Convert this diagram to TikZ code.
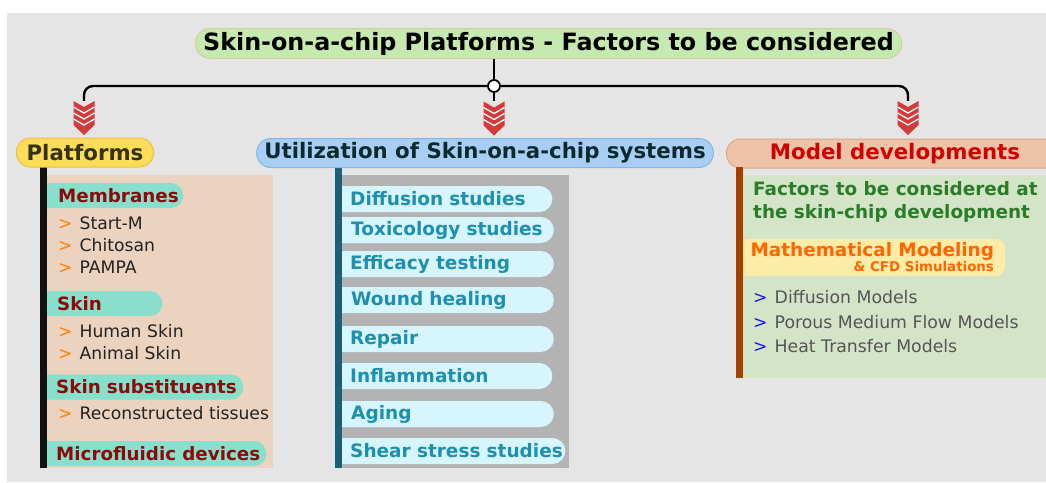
\documentclass[tikz,border=0pt]{standalone}
\usepackage{fontspec}
\setmainfont{DejaVu Sans}
\usetikzlibrary{shapes.misc, calc}

\definecolor{bggray}{HTML}{E5E5E5}
\definecolor{titlegreen}{HTML}{C6E9AF}
\definecolor{titleedge}{HTML}{D3CDA2}
\definecolor{platyellow}{HTML}{FDDC5A}
\definecolor{platedge}{HTML}{EBC23A}
\definecolor{platink}{HTML}{35330F}
\definecolor{useblue}{HTML}{A9CEF4}
\definecolor{useedge}{HTML}{7EB8EA}
\definecolor{useink}{HTML}{0B2A30}
\definecolor{modpeach}{HTML}{EEC4A8}
\definecolor{modedge}{HTML}{DDA585}
\definecolor{modred}{HTML}{D00000}
\definecolor{chevred}{HTML}{D43A3A}
\definecolor{beige}{HTML}{EBD3C0}
\definecolor{subteal}{HTML}{88DFCB}
\definecolor{subred}{HTML}{8B0A0A}
\definecolor{arrorange}{HTML}{FF7F00}
\definecolor{itemink}{HTML}{222222}
\definecolor{midgray}{HTML}{B3B3B3}
\definecolor{midbar}{HTML}{1B6078}
\definecolor{pillcyan}{HTML}{D6F5FC}
\definecolor{pillink}{HTML}{1E8FAE}
\definecolor{rightgreen}{HTML}{D4E4C6}
\definecolor{rightbar}{HTML}{A64000}
\definecolor{factgreen}{HTML}{2A7B2A}
\definecolor{mathyellow}{HTML}{FDECA8}
\definecolor{mathorange}{HTML}{FF6600}
\definecolor{arrblue}{HTML}{1A1AEE}
\definecolor{modink}{HTML}{555555}

\newcommand{\arrow}[1]{\textcolor{#1}{>}\hspace{7pt}}

\begin{document}
\begin{tikzpicture}[
    x=1pt, y=-1pt,
    head/.style={rounded rectangle, draw, line width=1pt, minimum height=29pt,
        font=\bfseries\fontsize{21.3}{20}\selectfont},
    link/.style={line width=2.4pt, black, rounded corners=9pt},
    hub/.style={circle, draw, fill=white, line width=1.8pt, minimum size=12pt, inner sep=0pt},
    chev/.style={minimum width=21pt, minimum height=34pt, inner sep=0pt, path picture={
        \begin{scope}[shift={(path picture bounding box.center)}]
        \fill[chevred] (-10.5,-17) -- (0,-11) -- (10.5,-17) -- (10.5,7) -- (0,17) -- (-10.5,7) -- cycle;
        \foreach \k in {1,2,3}
            \draw[white, line width=1.3pt] (-10.5,-17+6*\k) -- (0,-11+6*\k) -- (10.5,-17+6*\k);
        \end{scope}}},
    sub/.style={rounded rectangle, rounded rectangle west arc=none, fill=subteal,
        minimum height=25pt, inner xsep=0pt, align=left, anchor=west,
        font=\bfseries\fontsize{18.3}{17}\selectfont, text=subred},
    item/.style={anchor=west, inner sep=0pt, font=\fontsize{17.2}{16}\selectfont, text=itemink},
    use/.style={rounded rectangle, rounded rectangle west arc=none, fill=pillcyan,
        minimum height=26pt, inner xsep=0pt, align=left, anchor=west, text width=208pt,
        font=\bfseries\fontsize{18.5}{17}\selectfont, text=pillink},
    model/.style={anchor=west, inner sep=0pt, font=\fontsize{17.3}{16}\selectfont, text=modink}
]
\useasboundingbox (0,0) rectangle (1046,482);
\fill[bggray] (7,13) rectangle (1046,482);

% Titolo
\node[head, fill=titlegreen, draw=titleedge, minimum width=713pt,
    font=\bfseries\fontsize{23.8}{20}\selectfont] (title) at (548.5,43.5)
    {Skin-on-a-chip Platforms - Factors to be considered};

% Pannelli e barre
\fill[beige] (47,175) rectangle (273,468);
\fill[black!93] (40,167) rectangle (47,468);
\fill[midgray] (342,175) rectangle (569,468);
\fill[midbar] (335,168) rectangle (342,468);
\fill[rightgreen] (743,175) rectangle (1050,378);

% Intestazioni
\node[head, fill=platyellow, draw=platedge, text=platink, minimum width=144pt] (plat) at (85,152.5) {Platforms};
\node[head, fill=useblue, draw=useedge, text=useink, minimum width=450pt] (util) at (485,153) {Utilization of Skin-on-a-chip systems};
\node[head, fill=modpeach, draw=modedge, text=modred, minimum width=344pt] (model) at (895,153.5) {Model developments};

% Collegamenti
\node[hub] (hub) at (494,86) {};
\node[chev] (chevL) at (84,118) {};
\node[chev] (chevM) at (494,118.5) {};
\node[chev] (chevR) at (908,118) {};
\draw[link] (title.south -| hub) -- (hub);
\draw[link] (hub) -- (chevM.north);
\draw[link] (hub) -| (chevL.north);
\draw[link] (hub) -| (chevR.north);

% Piattaforme
\node[sub, text width=134pt] (membr) at (47,195.5) {\mbox{\hspace{11pt}Membranes}};
\node[item] (startm) at (58,223) {\arrow{arrorange}Start-M};
\node[item] (chito) at (58,245) {\arrow{arrorange}Chitosan};
\node[item] (pampa) at (58,267) {\arrow{arrorange}PAMPA};
\node[sub, text width=113pt] (skin) at (47,303.5) {\mbox{\hspace{10pt}Skin}};
\node[item] (human) at (58,331) {\arrow{arrorange}Human Skin};
\node[item] (animal) at (58,353) {\arrow{arrorange}Animal Skin};
\node[sub, text width=194pt] (subst) at (47,387) {\mbox{\hspace{9pt}Skin substituents}};
\node[item] (recon) at (58,413) {\arrow{arrorange}Reconstructed tissues};
\node[sub, text width=217pt] (micro) at (47,453.5) {\mbox{\hspace{9pt}Microfluidic devices}};

% Utilizzo
\node[use] (diff) at (342,199) {\mbox{\hspace{8pt}Diffusion studies}};
\node[use] (tox) at (342,230) {\mbox{\hspace{9pt}Toxicology studies}};
\node[use] (eff) at (342,264) {\mbox{\hspace{8pt}Efficacy testing}};
\node[use] (wound) at (342,300) {\mbox{\hspace{9pt}Wound healing}};
\node[use] (repair) at (342,339) {\mbox{\hspace{8pt}Repair}};
\node[use] (infl) at (342,376) {\mbox{\hspace{8pt}Inflammation}};
\node[use] (aging) at (342,414) {\mbox{\hspace{9pt}Aging}};
\node[use, text width=221pt] (shear) at (342,451) {\mbox{\hspace{8pt}Shear stress studies}};

% Modelli
\node[anchor=west, inner sep=0pt, align=left, text=factgreen,
    font=\bfseries\fontsize{18.4}{23}\selectfont] (fact) at (753,202)
    {Factors to be considered at\\the skin-chip development};
\node[rectangle, rounded corners=9pt, fill=mathyellow, anchor=east, align=right,
    minimum width=265pt, inner ysep=4pt, text=mathorange,
    font=\bfseries\fontsize{18.4}{17}\selectfont] (math) at (1005,257.5)
    {Mathematical Modeling\\[-2pt]{\fontsize{13.4}{13}\selectfont\& CFD Simulations}};
\fill[rightbar] (736,167) rectangle (743,378);
\node[model] (dmod) at (753,297) {\arrow{arrblue}Diffusion Models};
\node[model] (pmod) at (753,322) {\arrow{arrblue}Porous Medium Flow Models};
\node[model] (hmod) at (753,346) {\arrow{arrblue}Heat Transfer Models};

\end{tikzpicture}
\end{document}
